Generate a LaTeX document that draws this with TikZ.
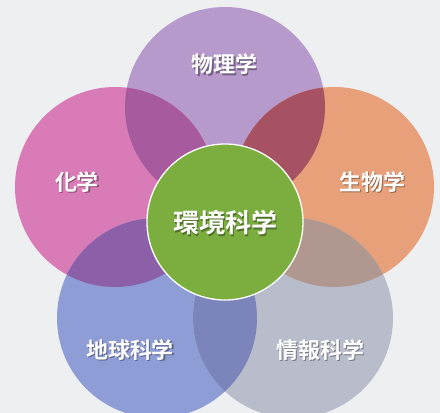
\documentclass[tikz,border=0pt]{standalone}
\usepackage{fontspec}
\newfontfamily\cjk{Noto Sans CJK JP}[BoldFont={Noto Sans CJK JP Bold}]
\definecolor{bgc}{HTML}{EEEFF1}
\definecolor{cP}{HTML}{B59ACB}
\definecolor{cC}{HTML}{D97BB6}
\definecolor{cB}{HTML}{E8A07A}
\definecolor{cE}{HTML}{8E9DD6}
\definecolor{cI}{HTML}{B8BCCB}
\definecolor{cPC}{HTML}{A85A9E}
\definecolor{cPB}{HTML}{A65262}
\definecolor{cBI}{HTML}{B09890}
\definecolor{cIE}{HTML}{7B85BB}
\definecolor{cEC}{HTML}{8C60A8}
\definecolor{cG}{HTML}{7BAE3F}
\tikzset{
  lbl/.style={text=white, font=\cjk\bfseries\fontsize{22}{24}\selectfont, inner sep=0pt},
  shd/.style={text=black, opacity=0.35, font=\cjk\bfseries\fontsize{22}{24}\selectfont, inner sep=0pt},
  big/.style={font=\cjk\bfseries\fontsize{26}{28}\selectfont},
}
\begin{document}
\begin{tikzpicture}[x=1pt,y=-1pt]
\useasboundingbox (0,0) rectangle (440,413);
\fill[bgc] (0,0) rectangle (440,413);
\coordinate (P) at (225,107);
\coordinate (C) at (115,187);
\coordinate (B) at (334,187);
\coordinate (E) at (157,318);
\coordinate (I) at (293,318);
\coordinate (G) at (225,222);
% base circles
\fill[cP] (P) circle (100pt);
\fill[cC] (C) circle (100pt);
\fill[cB] (B) circle (100pt);
\fill[cE] (E) circle (100pt);
\fill[cI] (I) circle (100pt);
% overlaps
\begin{scope}\clip (P) circle (100pt); \fill[cPC] (C) circle (100pt);\end{scope}
\begin{scope}\clip (P) circle (100pt); \fill[cPB] (B) circle (100pt);\end{scope}
\begin{scope}\clip (B) circle (100pt); \fill[cBI] (I) circle (100pt);\end{scope}
\begin{scope}\clip (I) circle (100pt); \fill[cIE] (E) circle (100pt);\end{scope}
\begin{scope}\clip (E) circle (100pt); \fill[cEC] (C) circle (100pt);\end{scope}
% centre circle
\fill[cG, draw=white, line width=1.3pt] (G) circle (78pt);
% labels
\node[shd] (sP) at (226,66) {物理学};
\node[lbl] (tP) at (224.5,64.5) {物理学};
\node[shd] (sC) at (78.5,183.5) {化学};
\node[lbl] (tC) at (77,182) {化学};
\node[shd] (sB) at (373.5,183.5) {生物学};
\node[lbl] (tB) at (372,182) {生物学};
\node[shd] (sE) at (131.5,351.5) {地球科学};
\node[lbl] (tE) at (130,350) {地球科学};
\node[shd] (sI) at (321.5,351.5) {情報科学};
\node[lbl] (tI) at (320,350) {情報科学};
\node[shd, big] (sG) at (226.5,224.5) {環境科学};
\node[lbl, big] (tG) at (225,223) {環境科学};
\end{tikzpicture}
\end{document}
